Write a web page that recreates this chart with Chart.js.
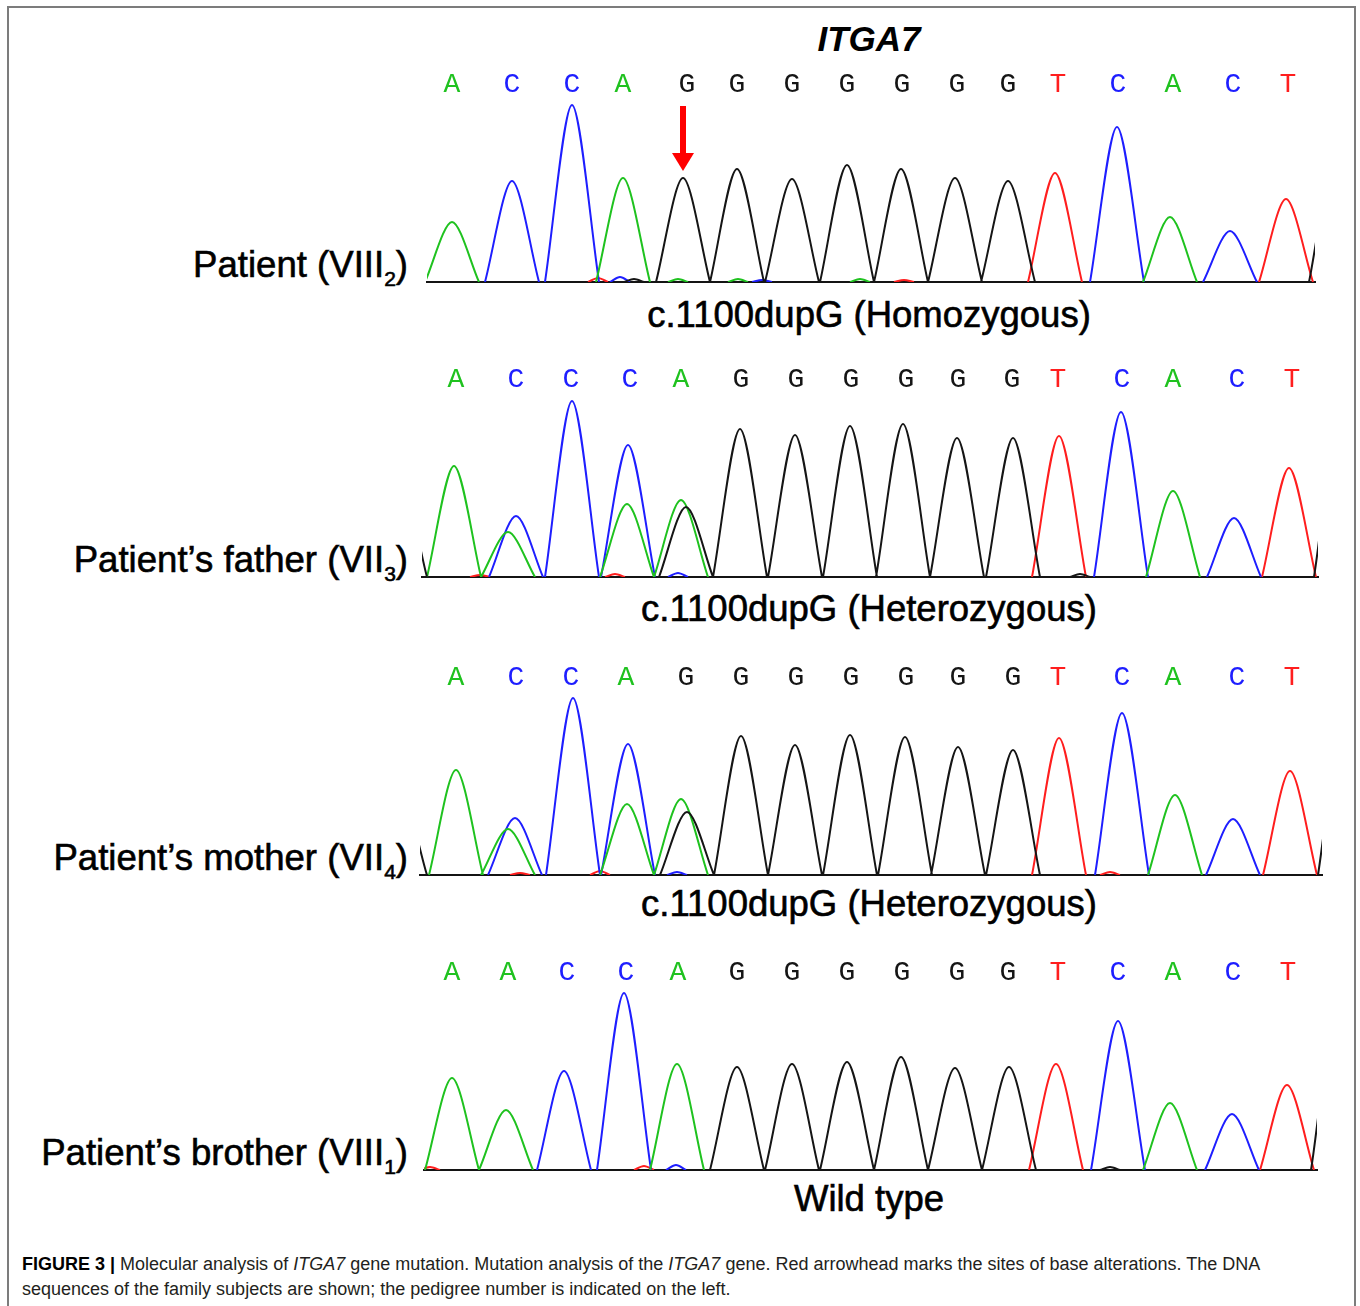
<!DOCTYPE html>
<html><head><meta charset="utf-8">
<script src="https://cdn.jsdelivr.net/npm/chart.js@4.4.1/dist/chart.umd.min.js"></script>
<style>
body{margin:0;background:#fff;width:1360px;height:1306px;position:relative;overflow:hidden;font-family:"Liberation Sans",Arial,sans-serif;}
#frame{position:absolute;left:7px;top:6px;width:1345px;height:1330px;border:2px solid #7c7c7c;border-bottom:none;}
canvas.panel{position:absolute;left:0;}
.t{position:absolute;white-space:nowrap;color:#000;line-height:1;}
.lab{font-size:36.6px;-webkit-text-stroke:0.6px #000;text-align:right;}
.lab sub{font-size:21px;vertical-align:baseline;position:relative;top:9px;}
.mid{font-size:36.5px;-webkit-text-stroke:0.6px #000;transform:translateX(-50%);}
.cap{font-size:18px;color:#231f20;left:22px;}
</style>
</head><body>
<div id="frame"></div>

<div class="t" style="left:869px;top:21px;font-size:35px;font-weight:bold;font-style:italic;transform:translateX(-50%);">ITGA7</div>

<div class="t lab" style="right:952px;top:247px;">Patient (VIII<sub>2</sub>)</div>
<div class="t lab" style="right:952px;top:542px;">Patient’s father (VII<sub>3</sub>)</div>
<div class="t lab" style="right:952px;top:840px;">Patient’s mother (VII<sub>4</sub>)</div>
<div class="t lab" style="right:952px;top:1135px;">Patient’s brother (VIII<sub>1</sub>)</div>

<div class="t mid" style="left:869px;top:297px;">c.1100dupG (Homozygous)</div>
<div class="t mid" style="left:869px;top:591px;">c.1100dupG (Heterozygous)</div>
<div class="t mid" style="left:869px;top:886px;">c.1100dupG (Heterozygous)</div>
<div class="t mid" style="left:869px;top:1181px;">Wild type</div>

<div class="t cap" style="top:1255px;"><b style="color:#000">FIGURE 3 |</b> Molecular analysis of <i>ITGA7</i> gene mutation. Mutation analysis of the <i>ITGA7</i> gene. Red arrowhead marks the sites of base alterations. The DNA</div>
<div class="t cap" style="top:1280px;">sequences of the family subjects are shown; the pedigree number is indicated on the left.</div>

<canvas id="c1" class="panel" width="1360" height="240" style="top:52px"></canvas>
<canvas id="c2" class="panel" width="1360" height="240" style="top:347px"></canvas>
<canvas id="c3" class="panel" width="1360" height="240" style="top:645px"></canvas>
<canvas id="c4" class="panel" width="1360" height="240" style="top:940px"></canvas>

<script>
// ---------- colours of the four dye channels ----------
const CH_COLOR = {A:'#1fc21f', C:'#1e1eff', G:'#151515', T:'#ff1e1e'};

// ---------- Panel 1: Patient (VIII2) ----------
const p1Calls   = ['A','C','C','A','G','G','G','G','G','G','G','T','C','A','C','T'];
const p1CallPos = [32,92,152,203,267,317,372,427,482,537,588,638,698,753,813,868];
const p1PeakCh  = ['A','C','C','A','G','G','G','G','G','G','G','T','C','A','C','T','G', 'T','C','G','A','A','C','A','T'];
const p1PeakPos = [32,92,152,203,263,317,372,427,481,535,588,635,697,750,810,866,916, 178,200,214,258,318,342,440,484];
const p1PeakH   = [60,101,177,104,104,113,103,117,113,104,101,109,155,65,51,83,130, 4,5,3,3,3,2,3,2];

// ---------- Panel 2: Patient's father (VII3) ----------
const p2Calls   = ['A','C','C','C','A','G','G','G','G','G','G','T','C','A','C','T'];
const p2CallPos = [36,96,151,210,261,321,376,431,486,538,592,638,702,753,817,872];
const p2PeakCh  = ['G','A','C','A','C','C','A','A','G','G','G','G','G','G','G','T','C','A','C','T','G', 'T','T','C','G'];
const p2PeakPos = [-20,34,96,88,152,208,207,261,266,320,375,430,483,537,593,639,701,753,814,869,921, 60,195,258,660];
const p2PeakH   = [100,111,61,45,176,132,73,77,70,148,142,151,153,139,139,141,165,86,59,109,170, 2,3,4,3];

// ---------- Panel 3: Patient's mother (VII4) ----------
const p3Calls   = ['A','C','C','A','G','G','G','G','G','G','G','T','C','A','C','T'];
const p3CallPos = [36,96,151,206,266,321,376,431,486,538,593,638,702,753,817,872];
const p3PeakCh  = ['G','A','C','A','C','C','A','A','G','G','G','G','G','G','G','T','C','A','C','T','G', 'T','T','C','T'];
const p3PeakPos = [-20,36,95,88,153,208,207,261,267,321,375,430,485,538,593,639,702,755,813,870,925, 100,180,257,690];
const p3PeakH   = [85,105,57,46,177,131,71,76,63,139,130,140,138,128,125,137,162,80,56,104,170, 2,4,3,3];

// ---------- Panel 4: Patient's brother (VIII1) ----------
const p4Calls   = ['A','A','C','C','A','G','G','G','G','G','G','T','C','A','C','T'];
const p4CallPos = [32,88,147,206,258,317,372,427,482,537,588,638,698,753,813,868];
const p4PeakCh  = ['A','A','C','C','A','G','G','G','G','G','G','T','C','A','C','T','G', 'T','C','T','G'];
const p4PeakPos = [32,86,144,204,257,317,372,427,481,535,589,636,698,750,812,867,918, 224,256,10,690];
const p4PeakH   = [92,60,99,177,106,103,106,108,113,102,103,106,149,67,56,85,170, 4,5,3,3];

// mutation site (duplicated G) marked in panel 1
const MUTATION_PEAK_INDEX = 4;

const HALF_WIDTH = 27, NOISE_HALF_WIDTH = 10;

function buildDatasets(ch, pos, h){
  const order = ['G','A','C','T'];
  return order.map(c => {
    const data = [];
    ch.forEach((cc,i) => {
      if (cc !== c) return;
      const w = h[i] < 10 ? NOISE_HALF_WIDTH : HALF_WIDTH;
      data.push({x:pos[i]-w, y:0}, {x:pos[i], y:h[i]}, {x:pos[i]+w, y:0}, {x:pos[i]+w, y:null});
    });
    return {data, borderColor:CH_COLOR[c], borderWidth:2, pointRadius:0, tension:0.3, spanGaps:false, fill:false};
  });
}

const arrowPlugin = {
  id:'arrow',
  afterDatasetsDraw(chart, args, opts){
    if (!opts.show) return;
    const ctx = chart.ctx;
    const px = chart.scales.x.getPixelForValue(p1PeakPos[MUTATION_PEAK_INDEX]);
    const tip = chart.scales.y.getPixelForValue(p1PeakH[MUTATION_PEAK_INDEX]) - 7;
    ctx.save();
    ctx.fillStyle = '#ff0000';
    ctx.fillRect(px-3, tip-65, 6, 50);
    ctx.beginPath();
    ctx.moveTo(px-11, tip-18); ctx.lineTo(px+11, tip-18); ctx.lineTo(px, tip); ctx.closePath();
    ctx.fill();
    ctx.restore();
  }
};

function makePanel(id, calls, callPos, ch, pos, h, range, showArrow){
  const ORIGIN = 420;
  new Chart(document.getElementById(id), {
    type:'line',
    data:{datasets: buildDatasets(ch, pos, h)},
    plugins:[arrowPlugin],
    options:{
      animation:false, responsive:false, maintainAspectRatio:false,
      layout:{padding:{left:ORIGIN+range[0], right:1360-(ORIGIN+range[1]), top:0, bottom:10}},
      plugins:{legend:{display:false}, tooltip:{enabled:false}, arrow:{show:showArrow}},
      scales:{
        x:{type:'linear', position:'bottom', min:range[0], max:range[1],
           grid:{display:false, drawTicks:false}, ticks:{display:false},
           border:{display:true, color:'#141414', width:2},
           afterFit:s=>{s.height=0;}},
        xTop:{type:'linear', position:'top', min:range[0], max:range[1],
           grid:{display:false, drawTicks:false}, border:{display:false},
           ticks:{autoSkip:false, maxRotation:0, minRotation:0, padding:1,
                  font:{family:'"Liberation Mono", "DejaVu Sans Mono", monospace', size:28},
                  color:c=>CH_COLOR[calls[c.index]],
                  callback:(v,i)=>calls[i]},
           afterBuildTicks:s=>{s.ticks = callPos.map(v=>({value:v}));},
           afterFit:s=>{s.height=50;}},
        y:{display:false, min:0, max:180}
      }
    }
  });
}

makePanel('c1', p1Calls, p1CallPos, p1PeakCh, p1PeakPos, p1PeakH, [7,895], true);
makePanel('c2', p2Calls, p2CallPos, p2PeakCh, p2PeakPos, p2PeakH, [2,898], false);
makePanel('c3', p3Calls, p3CallPos, p3PeakCh, p3PeakPos, p3PeakH, [0,902], false);
makePanel('c4', p4Calls, p4CallPos, p4PeakCh, p4PeakPos, p4PeakH, [4,897], false);
</script>
</body></html>
